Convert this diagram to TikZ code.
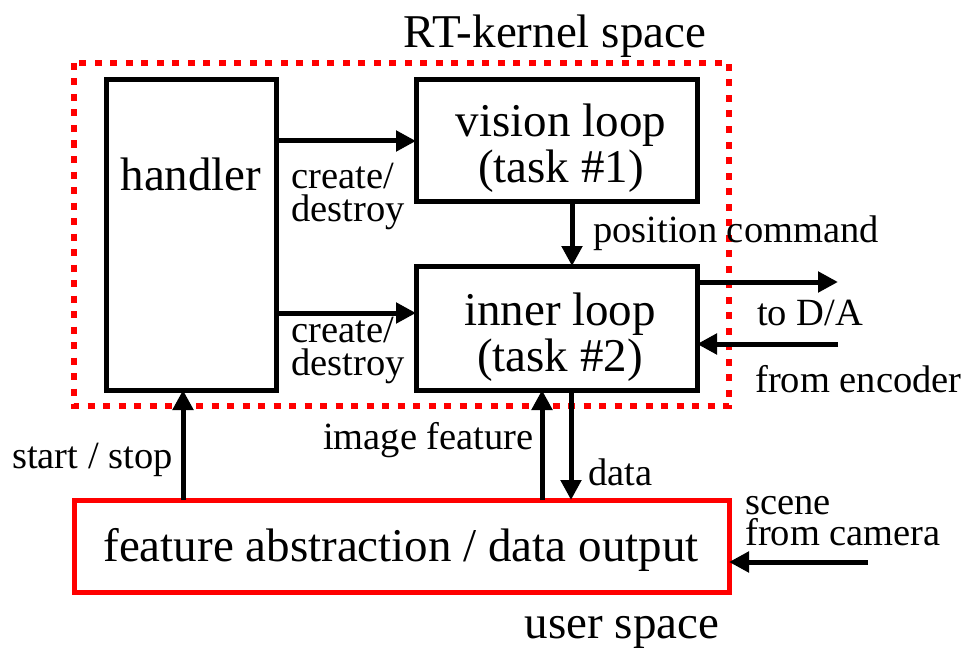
\documentclass[tikz,border=0pt]{standalone}
\usepackage{fontspec}
\setmainfont{Liberation Serif}
\usetikzlibrary{arrows.meta}
\begin{document}
\begin{tikzpicture}[x=1pt,y=-1pt,
  blk/.style={draw=black,line width=5pt,inner sep=0pt},
  conn/.style={line width=5pt,-{Triangle[length=20pt,width=20pt]}},
  big/.style={font=\fontsize{47}{46}\selectfont,inner sep=0pt},
  lbl/.style={font=\fontsize{38.5}{33}\selectfont,inner sep=0pt},
  kernel/.style={draw=red,line width=6pt,dash pattern=on 7pt off 8.5pt},
  user/.style={draw=red,line width=5pt}]
\useasboundingbox (0,0) rectangle (966,650);
% RT kernel space dotted frame
\draw[kernel] (74,63) rectangle (729,406);
\node[big] (rtlbl) at (555,36) {RT-kernel space};
% boxes
\draw[blk] (106,80) rectangle (276,390);
\node[big] (handler) at (191,174) {handler};
\coordinate (hR1) at (276,141);
\coordinate (hR2) at (276,313);
\coordinate (hB) at (183,390);
\draw[blk] (416,80) rectangle (697,201);
\node[big,align=center] (vision) at (561,148) {vision loop\\(task \#1)};
\coordinate (vL) at (416,141);
\coordinate (vB) at (572,201);
\draw[blk] (416,266) rectangle (697,390);
\node[big,align=center] (inner) at (560,337) {inner loop\\(task \#2)};
\coordinate (iL) at (416,313);
\coordinate (iT) at (572,266);
\coordinate (iR1) at (697,282);
\coordinate (iR2) at (697,344);
\coordinate (iB1) at (542,390);
\coordinate (iB2) at (571,390);
% feature box
\draw[user] (74,500) rectangle (729,592);
\node[big] (feat) at (401,550) {feature abstraction / data output};
\coordinate (fT1) at (183,500);
\coordinate (fT2) at (542,500);
\coordinate (fT3) at (571,500);
\coordinate (fR) at (729,562);
\node[big] (usr) at (622,632) {user space};
% free ends
\coordinate (da) at (838,282);
\coordinate (enc) at (838,344);
\coordinate (cam) at (868,562);
% connectors
\draw[conn] (hR1) -- (vL);
\draw[conn] (hR2) -- (iL);
\draw[conn] (vB) -- (iT);
\draw[conn] (iR1) -- (da);
\draw[conn] (enc) -- (iR2);
\draw[conn] (fT1) -- (hB);
\draw[conn] (fT2) -- (iB1);
\draw[conn] (iB2) -- (fT3);
\draw[conn] (cam) -- (fR);
% labels
\node[lbl,anchor=west,align=left] (cd1) at (291,196) {create/\\destroy};
\node[lbl,anchor=west,align=left] (cd2) at (291,350) {create/\\destroy};
\node[lbl,anchor=west] (pos) at (593,233) {position command};
\node[lbl,anchor=west] (toda) at (757,313) {to D/A};
\node[lbl,anchor=west] (fenc) at (755,379) {from encoder};
\node[lbl,anchor=west] (ss) at (12,460) {start / stop};
\node[lbl,anchor=west] (imf) at (323,440) {image feature};
\node[lbl,anchor=west] (dat) at (588,472) {data};
\node[lbl,anchor=west,align=left,font=\fontsize{38.5}{31}\selectfont] (scn) at (745,521) {scene\\from camera};
\end{tikzpicture}
\end{document}
